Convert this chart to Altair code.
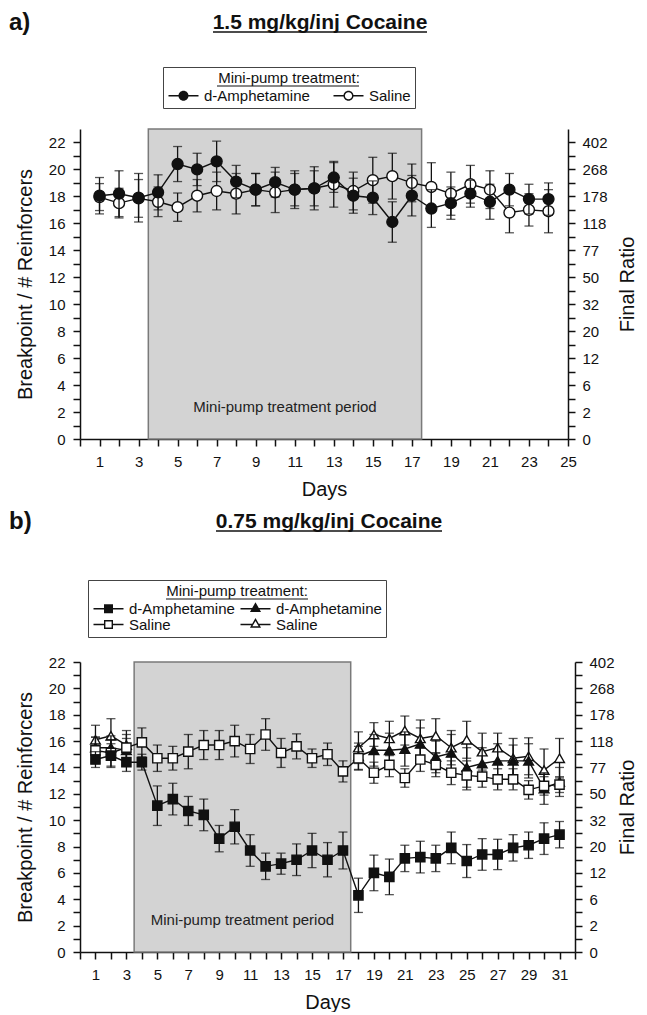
import altair as alt
import pandas as pd

FONT = "Liberation Sans"
INK = "#111111"

# ---------------- panel a : 1.5 mg/kg/inj cocaine ----------------
days_a = list(range(1, 25))
amph_a = [18.05, 18.2, 17.9, 18.3, 20.4, 20.0, 20.6, 19.1, 18.5, 19.05, 18.5, 18.6,
          19.4, 18.05, 17.9, 16.1, 18.05, 17.1, 17.5, 18.2, 17.6, 18.5, 17.8, 17.8]
amph_a_sem = [1.35, 1.7, 1.8, 1.3, 1.3, 1.2, 1.5, 1.2, 1.2, 1.1, 1.2, 1.6,
              1.1, 1.3, 1.25, 1.5, 1.5, 1.4, 1.2, 1.0, 1.3, 1.2, 1.1, 1.2]
sal_a = [17.95, 17.5, 17.85, 17.6, 17.2, 18.05, 18.4, 18.2, 18.5, 18.3, 18.5, 18.6,
         18.9, 18.4, 19.2, 19.5, 19.0, 18.7, 18.2, 18.9, 18.5, 16.8, 17.0, 16.9]
sal_a_sem = [1.0, 1.1, 1.4, 1.1, 1.05, 1.2, 1.4, 1.5, 1.2, 1.5, 1.4, 1.3,
             1.7, 1.4, 1.7, 1.7, 1.4, 1.8, 1.6, 1.4, 1.4, 1.5, 1.2, 1.6]

# ---------------- panel b : 0.75 mg/kg/inj cocaine ----------------
days_b = list(range(1, 32))
amph_sq_b = [14.6, 14.9, 14.4, 14.4, 11.1, 11.6, 10.7, 10.4, 8.6, 9.5, 7.7, 6.5, 6.7, 7.0, 7.7, 7.0, 7.7,
             4.3, 6.0, 5.7, 7.1, 7.2, 7.1, 7.9, 6.9, 7.4, 7.4, 7.9, 8.1, 8.6, 8.9]
amph_sq_b_sem = [0.6, 0.9, 0.7, 0.6, 1.5, 1.2, 1.1, 1.2, 1.0, 1.3, 1.2, 1.0, 0.8, 1.2, 1.3, 1.3, 1.4,
                 1.3, 1.35, 1.35, 1.0, 1.2, 1.0, 1.2, 1.25, 1.2, 1.15, 1.0, 1.0, 1.2, 1.0]
sal_sq_b = [15.3, 15.1, 15.5, 15.9, 14.7, 14.7, 15.2, 15.7, 15.7, 16.0, 15.4, 16.5, 15.1, 15.6, 14.7, 15.0, 13.7,
            14.7, 13.6, 14.2, 13.2, 14.6, 14.2, 13.6, 13.4, 13.3, 13.1, 13.1, 12.3, 12.6, 12.7]
sal_sq_b_sem = [1.0, 1.0, 1.0, 1.1, 1.0, 0.9, 1.3, 1.1, 1.1, 1.2, 1.1, 1.2, 1.1, 0.95, 0.7, 0.85, 0.8,
                0.9, 0.8, 0.9, 0.7, 0.9, 0.9, 0.9, 1.1, 0.8, 0.8, 0.8, 0.7, 0.7, 0.6]
days_tri_b = [1, 2, 3] + list(range(18, 32))
phase_tri_b = ["pre"] * 3 + ["post"] * 14
amph_tri_b = [15.5, 15.5, 15.3, 14.85, 15.3, 15.3, 15.4, 15.8, 14.8, 15.1, 14.0, 14.3, 14.5, 14.5, 14.5, 12.4, 12.9]
amph_tri_b_sem = [0.8, 0.9, 0.9, 1.0, 1.2, 1.3, 1.3, 1.2, 1.2, 1.4, 1.5, 1.2, 1.3, 1.2, 1.3, 1.2, 1.1]
sal_tri_b = [16.1, 16.4, 15.7, 15.5, 16.5, 16.2, 16.8, 16.2, 16.4, 15.5, 16.1, 15.2, 15.5, 14.7, 14.85, 13.8, 14.7]
sal_tri_b_sem = [1.1, 1.3, 1.1, 1.2, 0.9, 1.3, 1.1, 1.4, 1.3, 1.3, 1.4, 1.4, 1.1, 1.5, 1.4, 1.6, 1.5]

# axis / annotation texts
left_ticks = list(range(0, 23))
ratio_labels = ["0", "2", "6", "12", "20", "32", "50", "77", "118", "178", "268", "402"]
treatment_period = [3.5, 17.5]
period_label = "Mini-pump treatment period"
legend_title = "Mini-pump treatment:"


def frame(days, values, sems, phase=None):
    df = pd.DataFrame({"day": days, "value": values, "sem": sems})
    df["lo"] = df["value"] - df["sem"]
    df["hi"] = df["value"] + df["sem"]
    df["phase"] = phase if phase is not None else ["all"] * len(days)
    return df


# ---------- legend symbol paths (line - marker - line), filled black; open = ring ----------
U = 6.0  # px per symbol unit  (symbolSize = (2U)^2)


def p(v):
    return f"{v / U:.3f}"


def bars(end, half=15.0, th=1.4):
    return (f"M{p(-half)},{p(-th/2)}H{p(-end)}V{p(th/2)}H{p(-half)}Z"
            f"M{p(end)},{p(-th/2)}H{p(half)}V{p(th/2)}H{p(end)}Z")


def circ(r, cw=True):
    s = 1 if cw else 0
    return f"M{p(r)},0A{p(r)},{p(r)},0,1,{s},{p(-r)},0A{p(r)},{p(r)},0,1,{s},{p(r)},0Z"


def sq(h, cw=True):
    if cw:
        return f"M{p(-h)},{p(-h)}H{p(h)}V{p(h)}H{p(-h)}Z"
    return f"M{p(-h)},{p(-h)}V{p(h)}H{p(h)}V{p(-h)}Z"


def tri(r, cw=True):
    k = 3 ** 0.5 * r
    if cw:
        return f"M0,{p(-2*r)}L{p(k)},{p(r)}H{p(-k)}Z"
    return f"M0,{p(-2*r)}L{p(-k)},{p(r)}H{p(k)}Z"


T = 1.4
sym_circle_f = bars(4.0) + circ(5.0)
sym_circle_o = bars(4.0) + circ(5.0) + circ(5.0 - T, False)
sym_square_f = bars(3.5) + sq(4.5)
sym_square_o = bars(3.5) + sq(4.5) + sq(4.5 - T, False)
sym_tri_f = bars(3.2) + tri(3.2)
sym_tri_o = bars(3.2) + tri(3.2) + tri(3.2 - T, False)


def label_expr(keys, labels):
    e = "''"
    for k, l in reversed(list(zip(keys, labels))):
        e = f"datum.label == '{k}' ? '{l}' : ({e})"
    return e


def make_panel(series, x_max, y_max, width, height, letter, title, title_cx, title_half, rel_top,
               legend_keys, legend_labels, legend_paths, legend_xy, col_pad, right_tp, legend_center):
    xs = alt.Scale(domain=[0, x_max], nice=False, zero=False)
    ys = alt.Scale(domain=[0, y_max], nice=False, zero=False)
    x_axis = alt.Axis(values=list(range(0, x_max + 1)),
                      labelExpr="datum.value % 2 == 1 ? datum.label : ''",
                      title="Days", titlePadding=10, labelPadding=8)
    y_axis = alt.Axis(values=left_ticks, labelExpr="datum.value % 2 == 0 ? datum.label : ''",
                      title="Breakpoint / # Reinforcers", titlePadding=13, labelPadding=8)

    def X(f="day"):
        return alt.X(f"{f}:Q", scale=xs, axis=x_axis)

    def Y(f="value"):
        return alt.Y(f"{f}:Q", scale=ys, axis=y_axis)

    shade_df = pd.DataFrame({"start": [treatment_period[0]], "end": [treatment_period[1]],
                             "bottom": [0], "top": [y_max]})
    shade = alt.Chart(shade_df).mark_rect(fill="#d3d3d3", stroke="#7a7a7a", strokeWidth=1.5).encode(
        x=X("start"), x2="end", y=Y("bottom"), y2="top")
    period_df = pd.DataFrame({"x": [sum(treatment_period) / 2], "y": [2.4], "t": [period_label]})
    period = alt.Chart(period_df).mark_text(font=FONT, fontSize=15, color="#222").encode(
        x=X("x"), y=Y("y"), text="t:N")

    layers = [shade, period]
    for df, shape, fill, size in series:
        base = alt.Chart(df)
        layers += [
            base.mark_line(color=INK, strokeWidth=1.4).encode(x=X(), y=Y(), detail="phase:N"),
            base.mark_rule(color=INK, strokeWidth=1.3).encode(x=X(), y=Y("lo"), y2="hi"),
            base.mark_tick(color=INK, orient="horizontal", size=9, thickness=1.3).encode(x=X(), y=Y("lo")),
            base.mark_tick(color=INK, orient="horizontal", size=9, thickness=1.3).encode(x=X(), y=Y("hi")),
            base.mark_point(shape=shape, filled=True, fill=fill, stroke=INK, strokeWidth=1.4,
                            size=size, opacity=1).encode(x=X(), y=Y()),
        ]

    one = pd.DataFrame({"t": [0]})
    t_letter = alt.Chart(pd.DataFrame({"t": [letter]})).mark_text(
        font=FONT, fontSize=24, fontWeight="bold", align="left", baseline="middle", color=INK).encode(
        x=alt.value(-71), y=alt.value(rel_top), text="t:N")
    t_title = alt.Chart(pd.DataFrame({"t": [title]})).mark_text(
        font=FONT, fontSize=21, fontWeight="bold", align="center", baseline="middle", color=INK).encode(
        x=alt.value(title_cx), y=alt.value(rel_top), text="t:N")
    ul_title = alt.Chart(one).mark_rule(color=INK, strokeWidth=1.5).encode(
        x=alt.value(title_cx - title_half), x2=alt.value(title_cx + title_half),
        y=alt.value(rel_top + 9))
    ul_legend = alt.Chart(one).mark_rule(color=INK, strokeWidth=1.2).encode(
        x=alt.value(legend_center - 71), x2=alt.value(legend_center + 71),
        y=alt.value(legend_xy[1] + 19))
    layers += [t_letter, t_title, ul_title, ul_legend]

    inner = alt.layer(*layers)

    right_axis = alt.Axis(orient="right", values=left_ticks,
                          labelExpr=f"datum.value % 2 == 0 ? {ratio_labels}[datum.value / 2] : ''",
                          title="Final Ratio", titleAngle=270, titleBaseline="top",
                          titlePadding=right_tp, labelPadding=7)
    right = alt.Chart(series[0][0]).mark_point(opacity=0).encode(
        x=X(), y=alt.Y("value:Q", scale=ys, axis=right_axis))

    leg = alt.Legend(title=legend_title, orient="none", legendX=legend_xy[0], legendY=legend_xy[1],
                     direction="horizontal", columns=2, columnPadding=col_pad, rowPadding=0,
                     symbolSize=(2 * U) ** 2, symbolStrokeWidth=0, symbolFillColor=INK,
                     symbolOffset=9, labelOffset=13,
                     labelExpr=label_expr(legend_keys, legend_labels),
                     labelFont=FONT, labelFontSize=15, labelColor=INK,
                     titleFont=FONT, titleFontSize=15, titleFontWeight="normal", titleColor=INK,
                     titleAnchor="middle", titleAlign="center", titlePadding=2,
                     strokeColor="#444444", padding=4)
    legend_layer = alt.Chart(pd.DataFrame({"key": legend_keys})).transform_filter("false").mark_point(
        filled=True, color=INK, opacity=1, strokeWidth=0).encode(
        shape=alt.Shape("key:N", scale=alt.Scale(domain=legend_keys, range=legend_paths), legend=leg))

    return alt.layer(inner, right, legend_layer).resolve_scale(y="independent").properties(
        width=width, height=height)


series_a = [
    (frame(days_a, sal_a, sal_a_sem), "circle", "white", 120),
    (frame(days_a, amph_a, amph_a_sem), "circle", INK, 120),
]
panel_a = make_panel(series_a, 25, 23, 488, 310, "a)", "1.5 mg/kg/inj Cocaine", 240, 107, -106,
                     ["amph", "sal"], ["d-Amphetamine", "Saline"], [sym_circle_f, sym_circle_o],
                     (83, -62), 22, 10, 208)

series_b = [
    (frame(days_tri_b, sal_tri_b, sal_tri_b_sem, phase_tri_b), "triangle-up", "white", 95),
    (frame(days_tri_b, amph_tri_b, amph_tri_b_sem, phase_tri_b), "triangle-up", INK, 95),
    (frame(days_b, sal_sq_b, sal_sq_b_sem), "square", "white", 85),
    (frame(days_b, amph_sq_b, amph_sq_b_sem), "square", INK, 85),
]
panel_b = make_panel(series_b, 32, 22, 495, 290, "b)", "0.75 mg/kg/inj Cocaine", 249, 113, -140,
                     ["amph_sq", "amph_tri", "sal_sq", "sal_tri"],
                     ["d-Amphetamine", "d-Amphetamine", "Saline", "Saline"],
                     [sym_square_f, sym_tri_f, sym_square_o, sym_tri_o],
                     (8, -82), 4, 3, 157)

chart = alt.vconcat(panel_a, panel_b, spacing=11).resolve_scale(shape="independent").properties(
    padding={"left": 1, "top": 3, "right": 0, "bottom": 0}
).configure(font=FONT).configure_view(stroke=None).configure_axis(
    domainColor=INK, domainWidth=1.5, tickColor=INK, tickWidth=1.5, tickSize=7,
    labelColor=INK, labelFont=FONT, labelFontSize=15, titleFont=FONT, titleFontSize=20,
    titleFontWeight="normal", titleColor=INK, grid=False, labelOverlap=False, labelFlush=False)

chart.save("out.html", embed_options={"renderer": "svg", "actions": False})
